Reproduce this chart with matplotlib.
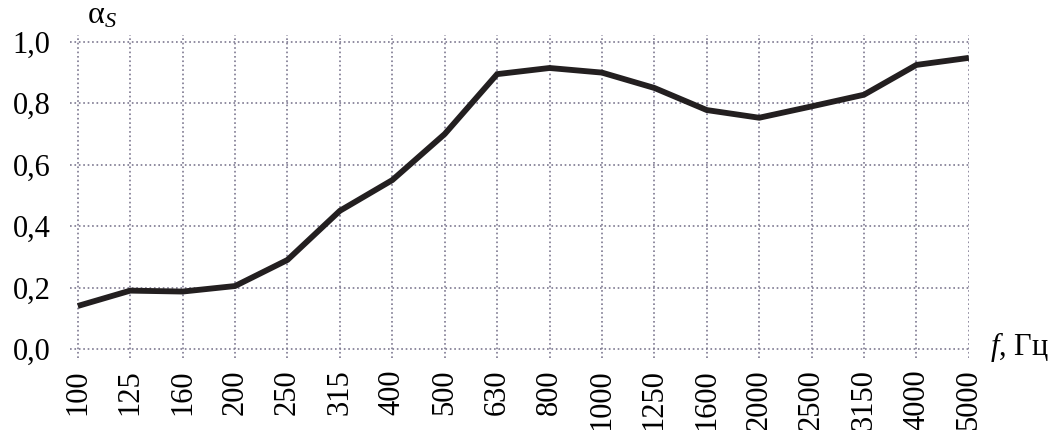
import matplotlib
matplotlib.use("Agg")
import matplotlib.pyplot as plt
import numpy as np

# Données : coefficient d'absorption en fonction de la fréquence
frequencies = ["100", "125", "160", "200", "250", "315", "400", "500", "630",
               "800", "1000", "1250", "1600", "2000", "2500", "3150", "4000", "5000"]
alpha_s = [0.14, 0.19, 0.187, 0.205, 0.29, 0.45, 0.55, 0.70, 0.895,
           0.915, 0.90, 0.85, 0.778, 0.753, 0.79, 0.828, 0.925, 0.948]
y_ticks = [0.0, 0.2, 0.4, 0.6, 0.8, 1.0]

plt.rcParams['font.family'] = ['Liberation Serif', 'DejaVu Serif']
plt.rcParams['mathtext.fontset'] = 'custom'
plt.rcParams['mathtext.rm'] = 'Liberation Serif'
plt.rcParams['mathtext.it'] = 'Liberation Serif:italic'

fig = plt.figure(figsize=(10.6, 4.3), dpi=100)
ax = fig.add_axes([0.066, 0.167, 0.848, 0.752])

x = np.arange(len(frequencies))
ax.plot(x, alpha_s, color='#231f20', linewidth=4.2, solid_joinstyle='miter',
        solid_capstyle='butt', zorder=3)

# limites un peu au-delà des graduations pour que la grille dépasse
ax.set_xlim(-0.15, len(frequencies) - 1)
ax.set_ylim(-0.03, 1.023)

ax.set_xticks(x)
ax.set_xticklabels(frequencies, rotation=90, fontsize=22)
ax.set_yticks(y_ticks)
ax.set_yticklabels([f"{v:.1f}".replace('.', ',') for v in y_ticks], fontsize=22)
ax.tick_params(length=0)
ax.tick_params(axis='y', pad=14)
ax.tick_params(axis='x', pad=8)

ax.grid(True, linestyle=':', color='#7d7890', linewidth=1.2)
for s in ax.spines.values():
    s.set_visible(False)

fig.text(0.082, 0.93, r'α$_{\mathit{S}}$', fontsize=23, ha='left', va='bottom')
fig.text(0.934, 0.193, r'$\mathit{f}$, Гц', fontsize=22, ha='left', va='center')

fig.savefig("out.png", dpi=100, facecolor='white')
